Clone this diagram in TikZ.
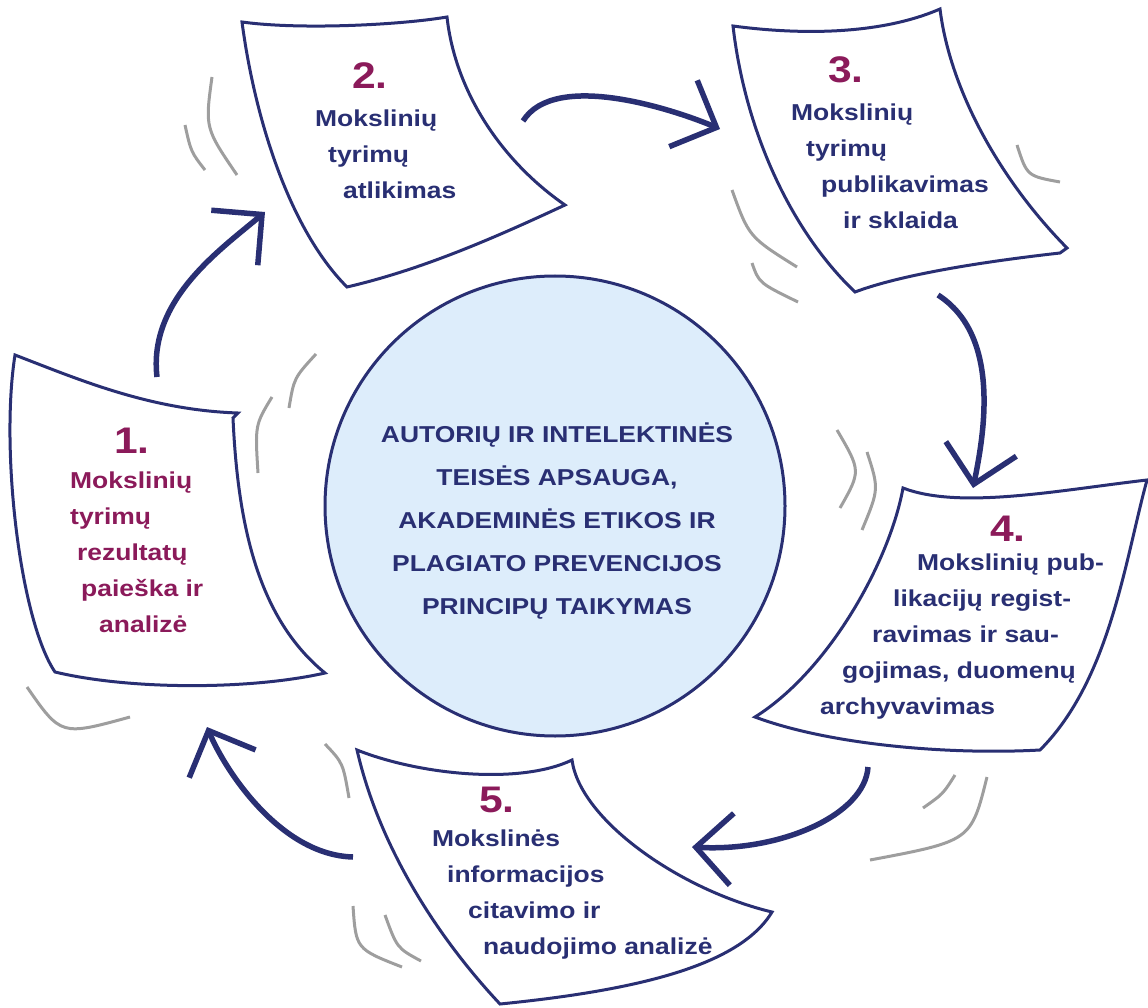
\documentclass[tikz,border=0pt]{standalone}
\usepackage{fontspec}
\setmainfont{Liberation Sans}[FakeStretch=1.15]
\usetikzlibrary{arrows.meta}
\definecolor{inknavy}{RGB}{41,47,115}
\definecolor{wine}{RGB}{139,26,90}
\definecolor{swooshgrey}{RGB}{158,158,158}
\definecolor{discfill}{RGB}{221,237,251}
\begin{document}
\begin{tikzpicture}
[
    x=1pt, y=-1pt,
    paper/.style={draw=inknavy, line width=3pt, fill=white, line join=miter},
    swoosh/.style={draw=swooshgrey, line width=3pt},
    flow/.style={draw=inknavy, line width=5.5pt, -{Straight Barb[length=36pt,width=72pt]}},
    disc/.style={circle, draw=inknavy, line width=3pt, fill=discfill, minimum size=460pt, inner sep=0pt},
    stepnum/.style={text=wine, font=\bfseries\fontsize{37}{40}\selectfont, anchor=base, inner sep=0pt},
    steptext/.style={text=inknavy, font=\bfseries\fontsize{23}{36}\selectfont, align=left, anchor=base west, inner sep=0pt},
]
\useasboundingbox (0,0) rectangle (1148,1008);
\node (core) [disc] at (555,506) {};
\node (principles) [text=inknavy, font=\bfseries\fontsize{23}{43}\selectfont, align=center, anchor=base, inner sep=0pt] at (557,614)
{AUTORIŲ IR INTELEKTINĖS\\TEISĖS APSAUGA,\\AKADEMINĖS ETIKOS IR\\PLAGIATO PREVENCIJOS\\PRINCIPŲ TAIKYMAS};

\draw[swoosh] (212,77) .. controls (205,128) .. (237,175);
\draw[swoosh] (185,125) .. controls (191,152) .. (205,170);
\draw[swoosh] (316,354) .. controls (294,378) .. (289,408);
\draw[swoosh] (272,397) .. controls (255,425) .. (258,473);
\draw[swoosh] (27,687) .. controls (61,736) .. (130,717);
\draw[swoosh] (325,744) .. controls (343,763) .. (349,798);
\draw[swoosh] (353,906) .. controls (356,949) .. (402,967);
\draw[swoosh] (385,915) .. controls (397,948) .. (421,961);
\draw[swoosh] (732,190) .. controls (749,237) .. (797,267);
\draw[swoosh] (752,263) .. controls (759,283) .. (798,302);
\draw[swoosh] (1017,145) .. controls (1027,176) .. (1060,182);
\draw[swoosh] (837,430) .. controls (861,471) .. (840,508);
\draw[swoosh] (867,452) .. controls (879,489) .. (862,530);
\draw[swoosh] (955,775) .. controls (943,794) .. (923,808);
\draw[swoosh] (987,777) .. controls (971,841) .. (870,860);

\draw[paper] (15,355) .. controls (80,380) and (150,410) .. (238,413) -- (233,418)
    .. controls (238,530) and (260,620) .. (325,673)
    .. controls (250,690) and (130,690) .. (55,672)
    .. controls (20,620) and (0,450) .. cycle;
\draw[paper] (242,22) .. controls (300,30) and (400,25) .. (447,17)
    .. controls (455,90) and (500,160) .. (565,205)
    .. controls (490,240) and (420,270) .. (347,287)
    .. controls (290,230) and (255,120) .. cycle;
\draw[paper] (733,26) .. controls (800,35) and (880,35) .. (940,9)
    .. controls (950,90) and (1000,180) .. (1067,248) -- (1060,253)
    .. controls (980,262) and (900,275) .. (855,292)
    .. controls (790,230) and (745,130) .. cycle;
\draw[paper] (903,488) .. controls (960,510) and (1060,490) .. (1147,480)
    .. controls (1125,560) and (1110,680) .. (1040,750)
    .. controls (950,755) and (830,745) .. (755,717)
    .. controls (830,670) and (890,560) .. cycle;
\draw[paper] (357,750) .. controls (420,775) and (520,785) .. (572,760)
    .. controls (580,820) and (680,890) .. (772,912)
    .. controls (740,965) and (640,990) .. (500,1004)
    .. controls (440,940) and (380,850) .. cycle;

\node (n1) [stepnum] at (132,453) {1.};
\node (t1) [steptext, text=wine] at (70,632)
{Mokslinių\\tyrimų\\\hspace*{7pt}rezultatų\\\hspace*{11pt}paieška ir\\\hspace*{29pt}analizė};
\node (n2) [stepnum] at (370,89) {2.};
\node (t2) [steptext] at (315,199)
{Mokslinių\\\hspace*{13pt}tyrimų\\\hspace*{28pt}atlikimas};
\node (n3) [stepnum] at (846,83) {3.};
\node (t3) [steptext] at (791,229)
{Mokslinių\\\hspace*{15pt}tyrimų\\\hspace*{30pt}publikavimas\\\hspace*{52pt}ir sklaida};
\node (n4) [stepnum] at (1008,541) {4.};
\node (t4) [steptext] at (820,714)
{\hspace*{97pt}Mokslinių pub-\\\hspace*{73pt}likacijų regist-\\\hspace*{52pt}ravimas ir sau-\\\hspace*{22pt}gojimas, duomenų\\archyvavimas};
\node (n5) [stepnum] at (497,812) {5.};
\node (t5) [steptext] at (432,954)
{Mokslinės\\\hspace*{15pt}informacijos\\\hspace*{36pt}citavimo ir\\\hspace*{51pt}naudojimo analizė};

\coordinate (s12) at (157,377);
\coordinate (e12) at (265,212);
\coordinate (s23) at (523,121);
\coordinate (e23) at (720,129);
\coordinate (s34) at (938,295);
\coordinate (e34) at (973,488);
\coordinate (s45) at (868,767);
\coordinate (e45) at (692,847);
\coordinate (s51) at (353,857);
\coordinate (e51) at (207,727);
\draw[flow] (s12) .. controls (148,300) and (220,250) .. (e12);
\draw[flow] (s23) .. controls (555,70) and (675,110) .. (e23);
\draw[flow] (s34) .. controls (1000,335) and (985,430) .. (e34);
\draw[flow] (s45) .. controls (865,815) and (780,852) .. (e45);
\draw[flow] (s51) .. controls (280,855) and (225,770) .. (e51);
\end{tikzpicture}
\end{document}
